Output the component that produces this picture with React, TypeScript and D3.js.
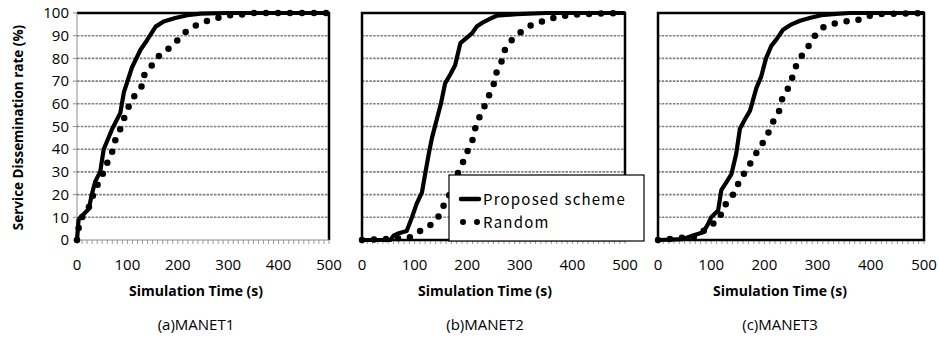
import { useRef, useEffect } from 'react';
import * as d3 from 'd3';

// [time (s), dissemination rate (%)]
const proposed1: [number, number][] = [
  [0, 0], [3, 8.8], [7, 10], [23, 13.5], [30, 20.6], [36, 25.7], [46, 30], [53, 40],
  [70, 49], [86, 56], [93, 65], [109, 76], [126, 83.8], [139, 88], [156, 94], [172, 96.3],
  [195, 97.8], [219, 99], [245, 99.7], [298, 100], [500, 100],
];
const random1: [number, number][] = [
  [0, 0], [5, 8], [15, 12], [25, 15], [33, 20.6], [40, 24], [51, 29], [60, 34], [70, 39],
  [76, 44], [86, 49], [94, 54], [103, 59], [114, 63.5], [128, 67.6], [134, 73], [148, 76.8],
  [162, 81], [180, 84], [195, 87], [217, 92], [235, 94.4], [256, 96.3], [278, 97.8],
  [301, 99], [328, 99.3], [351, 100], [500, 100],
];
const proposed2: [number, number][] = [
  [0, 0], [54, 0], [60, 1.9], [70, 3], [85, 4], [95, 10], [104, 16], [114, 21], [120, 29],
  [127, 38], [133, 45], [142, 53], [150, 60], [158, 69], [168, 73], [177, 77], [187, 86.7],
  [196, 88.5], [209, 91], [218, 94], [231, 96], [244, 97.5], [256, 98.8], [294, 99.5],
  [350, 100], [500, 100],
];
const random2: [number, number][] = [
  [0, 0], [85, 0.9], [92, 1.2], [111, 4], [127, 6], [143, 9], [152, 14], [163, 18],
  [171, 23], [179, 28], [190, 33], [198, 38], [209, 43], [215, 49], [223, 54], [233, 59],
  [242, 64], [251, 69], [256, 74], [266, 79], [272, 84], [286, 88.5], [302, 91.6],
  [320, 94.4], [343, 96.3], [363, 97.8], [386, 98.8], [408, 99.3], [440, 99.7], [500, 100],
];
const proposed3: [number, number][] = [
  [0, 0], [47, 0.4], [66, 2], [85, 3.4], [94, 7], [100, 10], [113, 13], [119, 22],
  [129, 25.6], [138, 29], [147, 38], [154, 49], [163, 53], [173, 57], [185, 67], [194, 72],
  [203, 80], [213, 85.5], [223, 88.5], [235, 92.6], [251, 95], [267, 96.6], [285, 97.8],
  [307, 99], [329, 99.5], [360, 100], [500, 100],
];
const random3: [number, number][] = [
  [0, 0], [72, 1.5], [94, 5.6], [116, 9.3], [122, 14.5], [135, 17.5], [146, 22],
  [154, 26.6], [166, 30.8], [178, 35.5], [188, 39.6], [199, 43.6], [209, 48], [218, 53],
  [228, 57], [234, 62.6], [245, 67], [253, 72], [260, 77], [272, 81.8], [284, 85.8],
  [295, 90], [310, 93.6], [332, 95.4], [354, 96.3], [376, 97], [398, 98.8], [423, 99.6],
  [500, 100],
];

const panelNames = ['(a)MANET1', '(b)MANET2', '(c)MANET3'];
const seriesNames = ['Proposed scheme', 'Random'];
const xTicks = [0, 100, 200, 300, 400, 500];
const yTicks = [0, 10, 20, 30, 40, 50, 60, 70, 80, 90, 100];

const panels = [
  { left: 77, right: 329, proposed: proposed1, random: random1, labelX: 196, firstAxis: true },
  { left: 362, right: 625, proposed: proposed2, random: random2, labelX: 485, firstAxis: false },
  { left: 658, right: 924, proposed: proposed3, random: random3, labelX: 780, firstAxis: false },
];

const TOP = 13;
const BOTTOM = 240;
const FONT = '"Open Sans", sans-serif';

export default function App() {
  const svgRef = useRef<SVGSVGElement>(null);

  useEffect(() => {
    const svg = d3.select(svgRef.current);
    svg.selectAll('*').remove();

    const y = d3.scaleLinear().domain([0, 100]).range([BOTTOM, TOP]);

    panels.forEach((p, i) => {
      const x = d3.scaleLinear().domain([0, 500]).range([p.left, p.right]);
      const g = svg.append('g');

      // gridlines
      g.selectAll('line.grid')
        .data(yTicks.filter(d => d > 0 && d < 100))
        .join('line')
        .attr('x1', p.left).attr('x2', p.right)
        .attr('y1', d => y(d)).attr('y2', d => y(d))
        .attr('stroke', '#808080').attr('stroke-width', 1.6)
        .attr('stroke-dasharray', '2.5 1.2');

      // minor ticks on x axis
      g.selectAll('line.xt')
        .data(d3.range(0, 501, 10))
        .join('line')
        .attr('x1', d => x(d)).attr('x2', d => x(d))
        .attr('y1', BOTTOM).attr('y2', BOTTOM + 4)
        .attr('stroke', '#9a9a9a').attr('stroke-width', 1);

      // border
      if (p.firstAxis) {
        g.append('path')
          .attr('d', `M${p.left},${TOP}H${p.right}V${BOTTOM}`)
          .attr('fill', 'none').attr('stroke', '#000').attr('stroke-width', 2.5);
        g.append('path')
          .attr('d', `M${p.left},${TOP}V${BOTTOM}H${p.right}`)
          .attr('fill', 'none').attr('stroke', '#8c8c8c').attr('stroke-width', 1);
        g.selectAll('line.yt')
          .data(yTicks)
          .join('line')
          .attr('x1', p.left - 4).attr('x2', p.left)
          .attr('y1', d => y(d)).attr('y2', d => y(d))
          .attr('stroke', '#8c8c8c');
        g.selectAll('text.yl')
          .data(yTicks)
          .join('text')
          .attr('x', p.left - 8).attr('y', d => y(d))
          .attr('dy', '0.35em').attr('text-anchor', 'end')
          .attr('font-family', FONT).attr('font-size', 15).attr('fill', '#000')
          .text(d => d);
      } else {
        g.append('rect')
          .attr('x', p.left).attr('y', TOP)
          .attr('width', p.right - p.left).attr('height', BOTTOM - TOP)
          .attr('fill', 'none').attr('stroke', '#000').attr('stroke-width', 2.5);
      }

      const line = d3.line<[number, number]>()
        .x(d => x(d[0]))
        .y(d => y(d[1]));

      g.append('path')
        .attr('d', line(p.random) || '')
        .attr('fill', 'none').attr('stroke', '#000')
        .attr('stroke-width', 6.5).attr('stroke-linecap', 'round')
        .attr('stroke-dasharray', '0 12');

      g.append('path')
        .attr('d', line(p.proposed) || '')
        .attr('fill', 'none').attr('stroke', '#000')
        .attr('stroke-width', 4.2).attr('stroke-linejoin', 'round');

      g.selectAll('text.xl')
        .data(xTicks)
        .join('text')
        .attr('x', d => x(d)).attr('y', 265)
        .attr('dy', '0.35em').attr('text-anchor', 'middle')
        .attr('font-family', FONT).attr('font-size', 15).attr('fill', '#000')
        .text(d => d);

      g.append('text')
        .attr('x', p.labelX).attr('y', 291).attr('dy', '0.35em')
        .attr('text-anchor', 'middle')
        .attr('font-family', FONT).attr('font-size', 14).attr('font-weight', 700)
        .text('Simulation Time (s)');

      g.append('text')
        .attr('x', p.labelX).attr('y', 325).attr('dy', '0.35em')
        .attr('text-anchor', 'middle')
        .attr('font-family', FONT).attr('font-size', 15)
        .text(panelNames[i]);
    });

    svg.append('text')
      .attr('transform', `translate(18,${(TOP + BOTTOM) / 2 + 1}) rotate(-90)`)
      .attr('dy', '0.35em').attr('text-anchor', 'middle')
      .attr('font-family', FONT).attr('font-size', 13.5).attr('font-weight', 700)
      .text('Service Dissemination rate (%)');

    // legend
    const lg = svg.append('g');
    lg.append('rect')
      .attr('x', 449).attr('y', 175).attr('width', 195).attr('height', 66)
      .attr('fill', '#fff').attr('stroke', '#000').attr('stroke-width', 1.2);
    lg.append('line')
      .attr('x1', 461).attr('x2', 479).attr('y1', 199).attr('y2', 199)
      .attr('stroke', '#000').attr('stroke-width', 4.5).attr('stroke-linecap', 'round');
    lg.append('line')
      .attr('x1', 463).attr('x2', 478).attr('y1', 222).attr('y2', 222)
      .attr('stroke', '#000').attr('stroke-width', 6).attr('stroke-linecap', 'round')
      .attr('stroke-dasharray', '0 14');
    lg.selectAll('text')
      .data(seriesNames)
      .join('text')
      .attr('x', 483).attr('y', (_d, i) => 199 + i * 23).attr('dy', '0.38em')
      .attr('font-family', '"Noto Sans CJK JP", sans-serif').attr('font-size', 15)
      .attr('letter-spacing', 1.2)
      .text(d => d);
  }, []);

  return (
    <svg
      ref={svgRef}
      width={939}
      height={339}
      style={{ position: 'absolute', left: 0, top: 0, display: 'block', background: '#fff' }}
    />
  );
}
